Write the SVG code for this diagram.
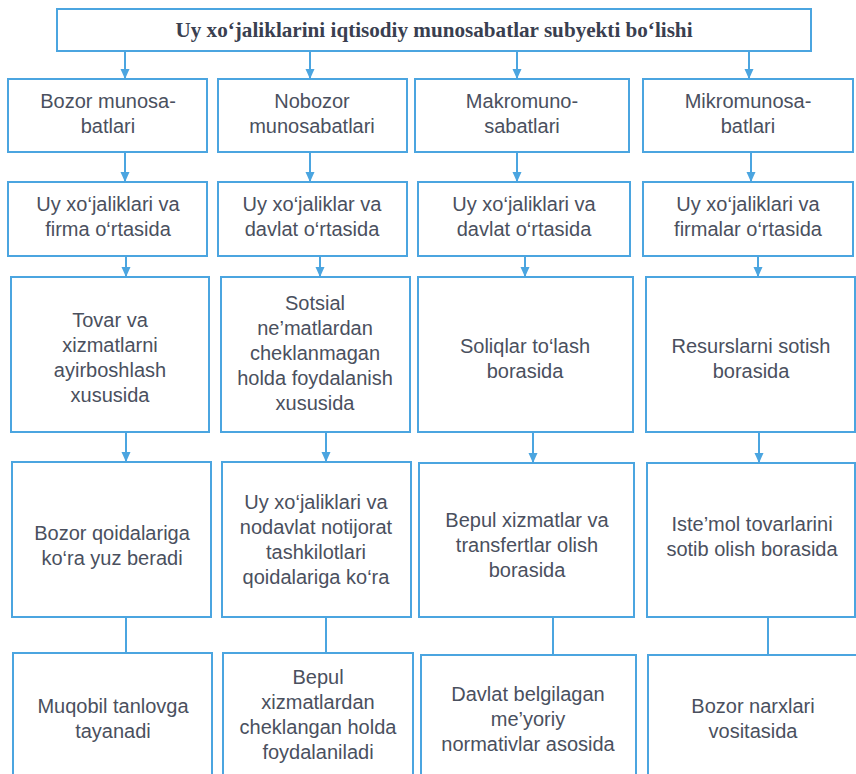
<svg xmlns="http://www.w3.org/2000/svg" width="856" height="774" viewBox="0 0 856 774">
<style>
.box{fill:#ffffff;stroke:#4ba5e0;stroke-width:2}
.t{font-family:"Liberation Sans",Arial,sans-serif;font-size:20px;fill:#4a505e;text-anchor:middle}
.title{font-family:"Liberation Serif","Times New Roman",serif;font-size:21px;font-weight:bold;fill:#3a3f50;text-anchor:middle}
.c{stroke:#4ba5e0;stroke-width:2;fill:none}
</style>
<defs>
<marker id="ah" viewBox="0 0 10 10" refX="10" refY="5" markerWidth="10" markerHeight="10" markerUnits="userSpaceOnUse" orient="auto">
<path d="M0,0.5 L10,5 L0,9.5 Z" fill="#4ba5e0"/>
</marker>
</defs>
<rect width="856" height="774" fill="#ffffff"/>
<g id="connectors">
<line class="c" x1="125" y1="50" x2="125" y2="79" marker-end="url(#ah)"/>
<line class="c" x1="310" y1="50" x2="310" y2="79" marker-end="url(#ah)"/>
<line class="c" x1="517" y1="51" x2="517" y2="79" marker-end="url(#ah)"/>
<line class="c" x1="749" y1="51" x2="749" y2="79" marker-end="url(#ah)"/>
<line class="c" x1="125" y1="152" x2="125" y2="182" marker-end="url(#ah)"/>
<line class="c" x1="310" y1="152" x2="310" y2="182" marker-end="url(#ah)"/>
<line class="c" x1="517" y1="152" x2="517" y2="182" marker-end="url(#ah)"/>
<line class="c" x1="751" y1="152" x2="751" y2="182" marker-end="url(#ah)"/>
<line class="c" x1="126" y1="256" x2="126" y2="277" marker-end="url(#ah)"/>
<line class="c" x1="320" y1="256" x2="320" y2="277" marker-end="url(#ah)"/>
<line class="c" x1="525" y1="256" x2="525" y2="277" marker-end="url(#ah)"/>
<line class="c" x1="758" y1="256" x2="758" y2="277" marker-end="url(#ah)"/>
<line class="c" x1="126" y1="432" x2="126" y2="462" marker-end="url(#ah)"/>
<line class="c" x1="326" y1="432" x2="326" y2="462" marker-end="url(#ah)"/>
<line class="c" x1="533" y1="432" x2="533" y2="463" marker-end="url(#ah)"/>
<line class="c" x1="759" y1="432" x2="759" y2="463" marker-end="url(#ah)"/>
<line class="c" x1="126" y1="617" x2="126" y2="653"/>
<line class="c" x1="326" y1="617" x2="326" y2="653"/>
<line class="c" x1="553" y1="617" x2="553" y2="655"/>
<line class="c" x1="768" y1="617" x2="768" y2="655"/>
</g>
<g id="title">
<rect class="box" x="57" y="9" width="754" height="42"/>
<text class="title" x="434" y="37" textLength="517" lengthAdjust="spacingAndGlyphs">Uy xo‘jaliklarini iqtisodiy munosabatlar subyekti bo‘lishi</text>
</g>
<g id="r1c1"><rect class="box" x="8" y="79" width="199" height="73"/>
<text class="t" x="108" y="108">Bozor munosa-</text><text class="t" x="108" y="133">batlari</text></g>
<g id="r1c2"><rect class="box" x="218" y="79" width="189" height="73"/>
<text class="t" x="312" y="108">Nobozor</text><text class="t" x="312" y="133">munosabatlari</text></g>
<g id="r1c3"><rect class="box" x="415" y="79" width="214" height="73"/>
<text class="t" x="522" y="108">Makromuno-</text><text class="t" x="522" y="133">sabatlari</text></g>
<g id="r1c4"><rect class="box" x="643" y="79" width="210" height="73"/>
<text class="t" x="748" y="108">Mikromunosa-</text><text class="t" x="748" y="133">batlari</text></g>

<g id="r2c1"><rect class="box" x="8" y="182" width="199" height="74"/>
<text class="t" x="108" y="211">Uy xo‘jaliklari va</text><text class="t" x="108" y="236">firma o‘rtasida</text></g>
<g id="r2c2"><rect class="box" x="218" y="182" width="189" height="74"/>
<text class="t" x="312" y="211">Uy xo‘jaliklar va</text><text class="t" x="312" y="236">davlat o‘rtasida</text></g>
<g id="r2c3"><rect class="box" x="418" y="182" width="212" height="74"/>
<text class="t" x="524" y="211">Uy xo‘jaliklari va</text><text class="t" x="524" y="236">davlat o‘rtasida</text></g>
<g id="r2c4"><rect class="box" x="643" y="182" width="210" height="74"/>
<text class="t" x="748" y="211">Uy xo‘jaliklari va</text><text class="t" x="748" y="236">firmalar o‘rtasida</text></g>

<g id="r3c1"><rect class="box" x="11" y="277" width="198" height="155"/>
<text class="t" x="110" y="327">Tovar va</text><text class="t" x="110" y="352">xizmatlarni</text><text class="t" x="110" y="377">ayirboshlash</text><text class="t" x="110" y="402">xususida</text></g>
<g id="r3c2"><rect class="box" x="221" y="277" width="189" height="155"/>
<text class="t" x="315" y="310">Sotsial</text><text class="t" x="315" y="335">ne’matlardan</text><text class="t" x="315" y="360">cheklanmagan</text><text class="t" x="315" y="385">holda foydalanish</text><text class="t" x="315" y="410">xususida</text></g>
<g id="r3c3"><rect class="box" x="418" y="277" width="215" height="155"/>
<text class="t" x="525" y="353">Soliqlar to‘lash</text><text class="t" x="525" y="378">borasida</text></g>
<g id="r3c4"><rect class="box" x="646" y="277" width="209" height="155"/>
<text class="t" x="751" y="353">Resurslarni sotish</text><text class="t" x="751" y="378">borasida</text></g>

<g id="r4c1"><rect class="box" x="12" y="462" width="199" height="155"/>
<text class="t" x="112" y="540">Bozor qoidalariga</text><text class="t" x="112" y="565">ko‘ra yuz beradi</text></g>
<g id="r4c2"><rect class="box" x="222" y="462" width="189" height="155"/>
<text class="t" x="316" y="509">Uy xo‘jaliklari va</text><text class="t" x="316" y="534">nodavlat notijorat</text><text class="t" x="316" y="559">tashkilotlari</text><text class="t" x="316" y="584">qoidalariga ko‘ra</text></g>
<g id="r4c3"><rect class="box" x="419" y="463" width="215" height="154"/>
<text class="t" x="527" y="527">Bepul xizmatlar va</text><text class="t" x="527" y="552">transfertlar olish</text><text class="t" x="527" y="577">borasida</text></g>
<g id="r4c4"><rect class="box" x="647" y="463" width="208" height="154"/>
<text class="t" x="752" y="531">Iste’mol tovarlarini</text><text class="t" x="752" y="556">sotib olish borasida</text></g>

<g id="r5c1"><rect class="box" x="13" y="653" width="199" height="130"/>
<text class="t" x="113" y="713">Muqobil tanlovga</text><text class="t" x="113" y="738">tayanadi</text></g>
<g id="r5c2"><rect class="box" x="223" y="653" width="190" height="130"/>
<text class="t" x="318" y="684">Bepul</text><text class="t" x="318" y="709">xizmatlardan</text><text class="t" x="318" y="734">cheklangan holda</text><text class="t" x="318" y="759">foydalaniladi</text></g>
<g id="r5c3"><rect class="box" x="421" y="655" width="215" height="130"/>
<text class="t" x="528" y="701">Davlat belgilagan</text><text class="t" x="528" y="726">me’yoriy</text><text class="t" x="528" y="751">normativlar asosida</text></g>
<g id="r5c4"><rect class="box" x="648" y="655" width="209" height="130"/>
<text class="t" x="753" y="713">Bozor narxlari</text><text class="t" x="753" y="738">vositasida</text></g>
</svg>
